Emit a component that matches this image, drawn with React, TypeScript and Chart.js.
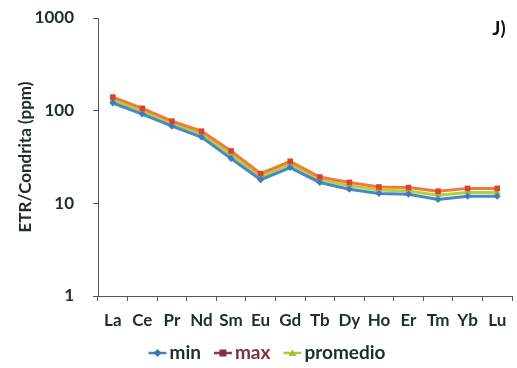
import React, { useEffect, useRef } from "react";
import { Chart, registerables } from "chart.js";

Chart.register(...registerables);

const categories = ["La", "Ce", "Pr", "Nd", "Sm", "Eu", "Gd", "Tb", "Dy", "Ho", "Er", "Tm", "Yb", "Lu"];
const minValues = [121, 92, 68, 52, 30.5, 18, 24.3, 16.8, 14.2, 12.8, 12.5, 11, 11.9, 11.9];
const maxValues = [140, 106, 77, 60, 36.7, 20.9, 28.4, 19.2, 16.8, 15, 14.8, 13.5, 14.5, 14.5];
const promedioValues = [130, 99, 72, 56, 33.5, 19.4, 26.3, 18, 15.5, 13.9, 13.6, 12.2, 13.1, 13.1];
const yTickValues = [1, 10, 100, 1000];
const yAxisTitle = "ETR/Condrita (ppm)";
const panelLabel = "J)";

const FONT = "Lato, 'Open Sans', sans-serif";
const TEXT = "#1f2e2c";

const legendStyles = [
  { line: "#4a7ebb", marker: "#3f73b8", shape: "diamond", text: TEXT },
  { line: "#8a3b4c", marker: "#7d3344", shape: "rect", text: "#7a3040" },
  { line: "#a8cc3c", marker: "#9cc236", shape: "triangle", text: TEXT },
];

function drawLegendSymbol(ctx: CanvasRenderingContext2D, x: number, y: number, st: any) {
  ctx.strokeStyle = st.line;
  ctx.lineWidth = 2.5;
  ctx.beginPath();
  ctx.moveTo(x, y);
  ctx.lineTo(x + 18, y);
  ctx.stroke();
  ctx.fillStyle = st.marker;
  ctx.beginPath();
  const cx = x + 9;
  if (st.shape === "rect") {
    ctx.rect(cx - 3.5, y - 3.5, 7, 7);
  } else if (st.shape === "triangle") {
    ctx.moveTo(cx, y - 3.5);
    ctx.lineTo(cx + 4, y + 3);
    ctx.lineTo(cx - 4, y + 3);
    ctx.closePath();
  } else {
    ctx.moveTo(cx, y - 4);
    ctx.lineTo(cx + 4, y);
    ctx.lineTo(cx, y + 4);
    ctx.lineTo(cx - 4, y);
    ctx.closePath();
  }
  ctx.fill();
}

const customLegendPlugin = {
  id: "customLegend",
  afterDraw(chart: any) {
    const ctx: CanvasRenderingContext2D = chart.ctx;
    ctx.save();
    ctx.font = `bold 19px ${FONT}`;
    ctx.textBaseline = "middle";
    ctx.textAlign = "left";
    const symW = 18;
    const gapSym = 3;
    const gapItem = 13;
    const labels = chart.data.datasets.map((d: any) => d.label as string);
    const widths = labels.map((t: string) => symW + gapSym + ctx.measureText(t).width);
    const total = widths.reduce((a: number, b: number) => a + b, 0) + gapItem * (labels.length - 1);
    let x = 267 - total / 2;
    const y = 353;
    labels.forEach((t: string, i: number) => {
      drawLegendSymbol(ctx, x, y, legendStyles[i]);
      ctx.fillStyle = legendStyles[i].text;
      ctx.fillText(t, x + symW + gapSym, y);
      x += widths[i] + gapItem;
    });
    ctx.font = `bold 19px ${FONT}`;
    ctx.fillStyle = "#111";
    ctx.textAlign = "center";
    ctx.fillText(panelLabel, 499, 29);
    ctx.restore();
  },
};

export default function App() {
  const ref = useRef<HTMLCanvasElement | null>(null);

  useEffect(() => {
    document.body.style.margin = "0";
    const canvas = ref.current!;

    const chart = new Chart(canvas, {
      type: "line",
      data: {
        labels: categories,
        datasets: [
          {
            label: "min",
            data: minValues,
            borderColor: "#4a86c8",
            backgroundColor: "#3f7bc0",
            borderWidth: 3,
            pointStyle: "rectRot",
            pointRadius: 3.5,
            pointBorderWidth: 0,
          },
          {
            label: "max",
            data: maxValues,
            borderColor: "#f07a3a",
            backgroundColor: "#d9452c",
            borderWidth: 3,
            pointStyle: "rect",
            pointRadius: 4,
            pointBorderWidth: 0,
          },
          {
            label: "promedio",
            data: promedioValues,
            borderColor: "#b2d040",
            backgroundColor: "#8fbf3a",
            borderWidth: 3,
            pointStyle: "triangle",
            pointRadius: 4,
            pointBorderWidth: 0,
          },
        ],
      },
      options: {
        animation: false,
        responsive: false,
        maintainAspectRatio: false,
        layout: { padding: { top: 18, right: 5, left: 0, bottom: 33 } },
        plugins: {
          tooltip: { enabled: false },
          title: { display: false },
          legend: { display: false },
        },
        scales: {
          x: {
            offset: true,
            afterFit: (scale: any) => {
              scale.height = 39;
            },
            grid: {
              offset: true,
              drawOnChartArea: false,
              drawTicks: true,
              tickLength: 5,
              color: "#555",
            },
            border: { color: "#555", width: 1 },
            ticks: {
              padding: 9,
              color: TEXT,
              font: { family: FONT, size: 17, weight: "bold" },
              maxRotation: 0,
              autoSkip: false,
            },
          },
          y: {
            type: "logarithmic",
            min: 1,
            max: 1000,
            afterBuildTicks: (scale: any) => {
              scale.ticks = yTickValues.map((v) => ({ value: v }));
            },
            afterFit: (scale: any) => {
              scale.width = 98;
              scale.paddingTop = 0;
              scale.paddingBottom = 0;
            },
            grid: {
              drawOnChartArea: false,
              drawTicks: true,
              tickLength: 5,
              color: "#555",
            },
            border: { color: "#555", width: 1 },
            ticks: {
              padding: 19,
              color: TEXT,
              font: { family: FONT, size: 17, weight: "bold" },
              callback: (v: any) => String(v),
            },
            title: {
              display: true,
              text: yAxisTitle,
              color: TEXT,
              font: { family: FONT, size: 17, weight: "bold" },
              padding: { top: 15, bottom: 0 },
            },
          },
        },
      },
      plugins: [customLegendPlugin],
    } as any);
    return () => chart.destroy();
  }, []);

  return (
    <div style={{ width: 517, height: 368, background: "#fff" }}>
      <canvas ref={ref} width={517} height={368} style={{ display: "block" }} />
    </div>
  );
}
